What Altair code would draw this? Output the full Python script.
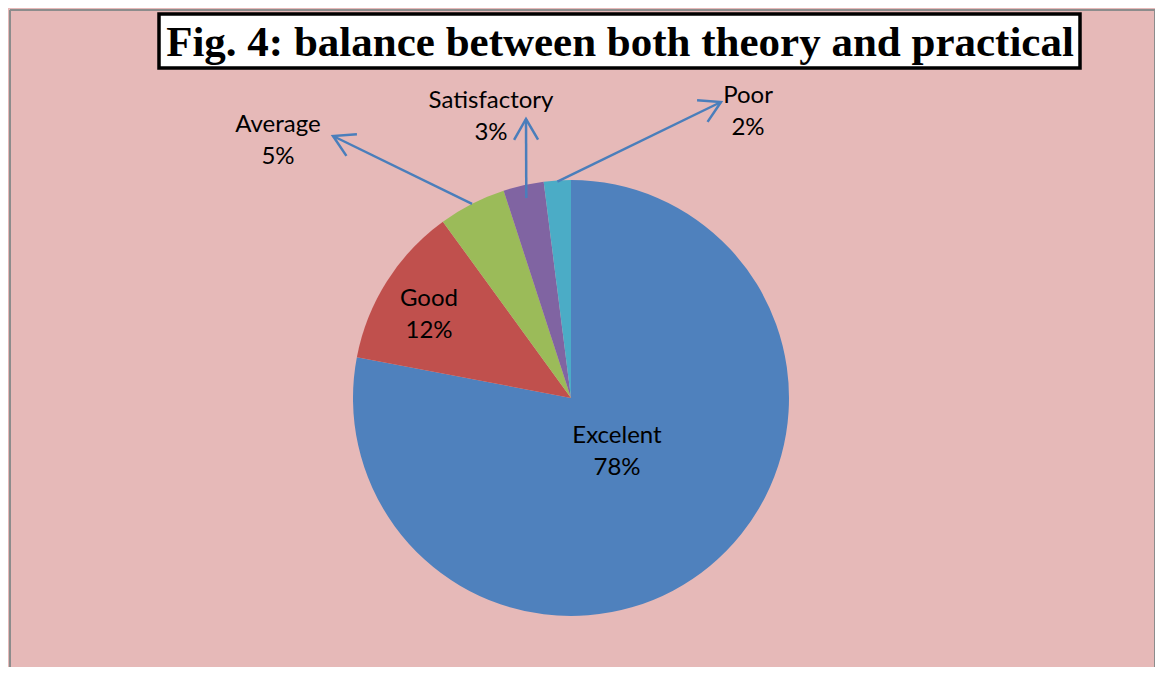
import math
import altair as alt
import pandas as pd

# ---- data ----
categories = ["Excelent", "Good", "Average", "Satisfactory", "Poor"]
values = [78, 12, 5, 3, 2]
colors = ["#4F81BD", "#C0504D", "#9BBB59", "#8064A2", "#4BACC6"]
title_text = "Fig. 4: balance between both theory and practical"

# ---- layout (page pixels) ----
OX, OY = 9, 9                # view origin on the page
W, H = 1145, 657             # view size
CX, CY, R = 570, 397, 218    # pie centre and radius (page px)
label_pos = {                # centre of the first line of each label
    "Excelent": (616, 435),
    "Good": (428, 298),
    "Average": (277, 124),
    "Satisfactory": (490, 100),
    "Poor": (747, 95),
}
arrow_end = {                # leader tips for outside labels
    "Average": (332, 135),
    "Satisfactory": (525, 118),
    "Poor": (720, 101),
}
arrow_r = {"Average": 1.0, "Satisfactory": 0.94, "Poor": 0.995}

pie_df = pd.DataFrame({"cat": categories, "val": values,
                       "order": list(range(len(categories)))})

lab_df = pd.DataFrame({
    "cat": categories,
    "txt": [f"{c}\n{v}%" for c, v in zip(categories, values)],
    "px": [label_pos[c][0] - OX for c in categories],
    "py": [label_pos[c][1] - OY for c in categories],
})

total = sum(values)
rows = []
cum = 0
for c, v in zip(categories, values):
    mid = (cum + v / 2) / total * 2 * math.pi
    cum += v
    if c in arrow_end:
        r = R * arrow_r[c]
        sx = CX + r * math.sin(mid)
        sy = CY - r * math.cos(mid)
        ex, ey = arrow_end[c]
        ang = math.degrees(math.atan2(ex - sx, -(ey - sy))) % 360
        rows.append({"cat": c, "x1": sx - OX, "y1": sy - OY,
                     "x2": ex - OX, "y2": ey - OY, "ang": ang})
arr_df = pd.DataFrame(rows)

cscale = alt.Scale(domain=categories, range=colors)

pie = alt.Chart(pie_df).mark_arc(
    outerRadius=R, x=CX - OX, y=CY - OY, strokeWidth=0
).encode(
    theta=alt.Theta("val:Q", stack=True),
    color=alt.Color("cat:N", scale=cscale, legend=None),
    order=alt.Order("order:Q"),
)

labels = alt.Chart(lab_df).mark_text(
    font="Lato", fontSize=24, color="#000000", lineBreak="\n",
    lineHeight=32, align="center", baseline="middle"
).encode(
    x=alt.X("px:Q", scale=None),
    y=alt.Y("py:Q", scale=None),
    text="txt:N",
)

lines = alt.Chart(arr_df).mark_rule(color="#4A7EBB", strokeWidth=2.5).encode(
    x=alt.X("x1:Q", scale=None), y=alt.Y("y1:Q", scale=None),
    x2="x2:Q", y2="y2:Q",
)

heads = alt.Chart(arr_df).mark_point(
    shape="M-0.5,0.866 L0,0 L0.5,0.866", filled=False, size=2300,
    color="#4A7EBB", strokeWidth=2.5, opacity=1
).encode(
    x=alt.X("x2:Q", scale=None), y=alt.Y("y2:Q", scale=None),
    angle=alt.Angle("ang:Q", scale=None),
)

title_df = pd.DataFrame({"t": [title_text]})
box = alt.Chart(title_df).mark_rect(
    fill="white", stroke="black", strokeWidth=3.5
).encode(
    x=alt.value(158 - OX), x2=alt.value(1079 - OX),
    y=alt.value(13 - OY), y2=alt.value(67 - OY),
)
title = alt.Chart(title_df).mark_text(
    font="Liberation Serif", fontSize=43, fontWeight="bold", color="black",
    align="center", baseline="alphabetic"
).encode(
    x=alt.value(619 - OX), y=alt.value(55 - OY), text="t:N",
)

# outer frame: top, left and right edges only (bottom is cut off in the original)
frame_style = dict(color="#8C8C8C", strokeWidth=2)
frame_top = alt.Chart(title_df).mark_rule(**frame_style).encode(
    x=alt.value(0), x2=alt.value(W), y=alt.value(0))
frame_left = alt.Chart(title_df).mark_rule(**frame_style).encode(
    x=alt.value(0), y=alt.value(0), y2=alt.value(H + 2))
frame_right = alt.Chart(title_df).mark_rule(**frame_style).encode(
    x=alt.value(W), y=alt.value(0), y2=alt.value(H + 2))

chart = alt.layer(pie, lines, heads, labels, box, title,
                  frame_top, frame_left, frame_right).properties(
    width=1147, height=659, padding=1,
    autosize=alt.AutoSizeParams(type="fit", contains="padding"),
    background="#E6B9B8",
).configure_view(
    fill="#E6B9B8", strokeWidth=0
)

chart.save("out.html", embed_options={"renderer": "svg", "actions": False})
